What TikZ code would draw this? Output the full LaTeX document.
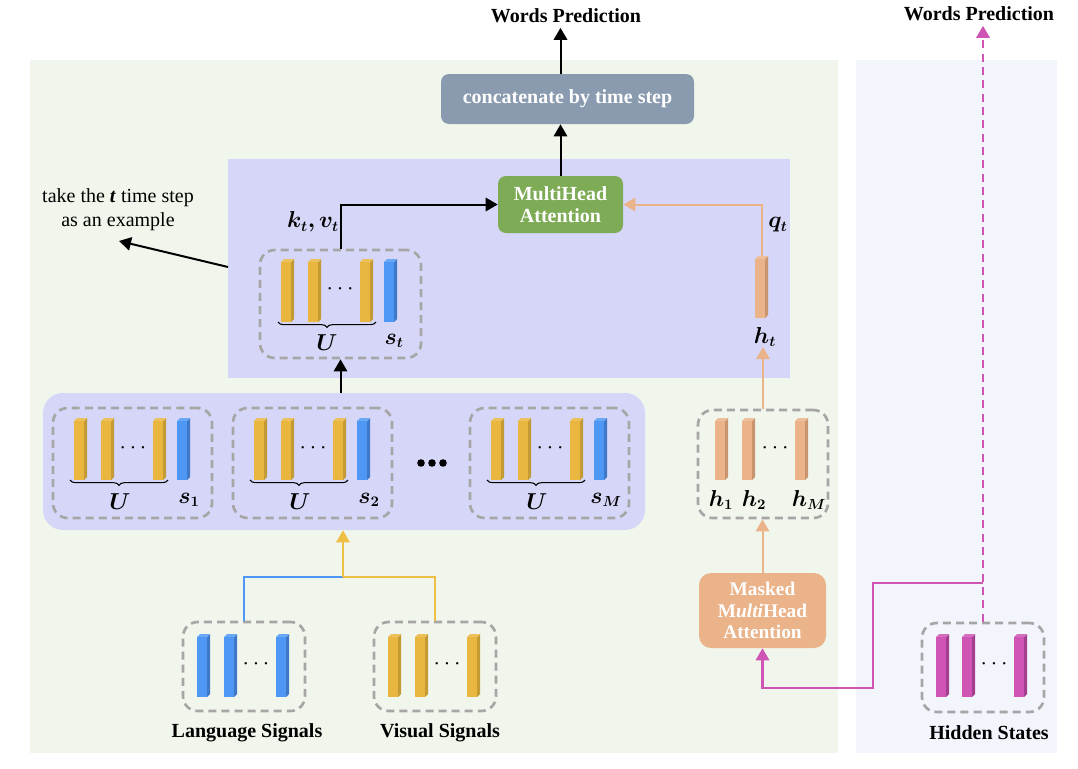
\documentclass[tikz,border=0pt]{standalone}
\usepackage{fontspec}
\setmainfont{Liberation Serif}
\usepackage{bm}
\usetikzlibrary{arrows.meta,decorations.pathreplacing,fit}
\definecolor{bggreen}{HTML}{F1F6EC}
\definecolor{bgblue}{HTML}{F3F5FD}
\definecolor{panelc}{HTML}{D6D6F8}
\definecolor{concatc}{HTML}{8A9BB0}
\definecolor{mhac}{HTML}{7EAB55}
\definecolor{orangec}{HTML}{EAB38A}
\definecolor{oranged}{HTML}{C8956E}
\definecolor{yel}{HTML}{E9B63F}
\definecolor{yeld}{HTML}{C39A33}
\definecolor{yline}{HTML}{EFBE45}
\definecolor{blu}{HTML}{4F97F5}
\definecolor{blud}{HTML}{3E78C6}
\definecolor{mag}{HTML}{CE55B3}
\definecolor{magd}{HTML}{A43F8F}
\definecolor{dashg}{HTML}{A6A6A6}

% x, ytop, ybot, front colour, side colour
\newcommand{\cuboid}[5]{%
  \fill[#5] ({#1+10},#2) -- ({#1+13},{#2-3}) -- ({#1+13},{#3-3}) -- ({#1+10},#3) -- cycle;
  \fill[#4!85!white] (#1,#2) -- ({#1+3},{#2-3}) -- ({#1+13},{#2-3}) -- ({#1+10},#2) -- cycle;
  \fill[#4] (#1,#2) rectangle ({#1+10},#3);
}
% offset, name, label
\newcommand{\ublock}[3]{%
  \node[dashbox, fit={({53+#1},408) ({212+#1},518)}] (#2) {};
  \cuboid{74+#1}{421}{480}{yel}{yeld}
  \cuboid{101+#1}{421}{480}{yel}{yeld}
  \cuboid{153+#1}{421}{480}{yel}{yeld}
  \cuboid{177+#1}{421}{480}{blu}{blud}
  \node[dl] (#2d) at ({133+#1},448) {$\cdots$};
  \draw[bracec] ({168+#1},480) -- ({70+#1},480);
  \node[ml] (#2U) at ({120+#1},502) {$\bm{U}$};
  \node[ml] (#2s) at ({189+#1},500) {$\bm{#3}$};
}

\begin{document}
\begin{tikzpicture}[x=0.75pt,y=-0.75pt,
  dashbox/.style={draw=dashg,line width=2pt,dash pattern=on 6pt off 3.8pt,rounded corners=11pt,inner sep=0pt},
  conn/.style={line width=1.5pt},
  arr/.style={-{Triangle[width=10pt,length=9pt]}},
  bl/.style={font=\fontsize{15}{18}\selectfont\bfseries},
  ml/.style={font=\fontsize{16}{18}\selectfont, inner sep=0pt},
  dl/.style={font=\fontsize{17}{18}\selectfont, inner sep=0pt},
  wbox/.style={text=white,align=center,font=\fontsize{15}{17}\selectfont\bfseries},
  bracec/.style={line width=0.8pt, decorate, decoration={brace,amplitude=4pt}},
  ]
\useasboundingbox (0,0) rectangle (1078,768);

% backgrounds
\node[fit={(30,60) (838,753)}, fill=bggreen, inner sep=0pt] (bgL) {};
\node[fit={(856,60) (1057,753)}, fill=bgblue, inner sep=0pt] (bgR) {};
\node[fit={(228,159) (790,378)}, fill=panelc, inner sep=0pt] (upp) {};
\node[fit={(43,393) (645,530)}, fill=panelc, inner sep=0pt, rounded corners=15pt] (lowp) {};

% top boxes
\node[fit={(441,74) (694,124)}, fill=concatc, rounded corners=6pt, inner sep=0pt] (cat) {};
\node[wbox] (catT) at (cat.center) {concatenate by time step};
\node[fit={(498,176) (623,233)}, fill=mhac, rounded corners=6pt, inner sep=0pt] (mha) {};
\node[wbox] (mhaT) at (mha.center) {MultiHead\\Attention};
\node[fit={(699,573) (826,648)}, fill=orangec, rounded corners=9pt, inner sep=0pt] (msk) {};
\node[wbox, font=\fontsize{14.5}{16}\selectfont\bfseries] (mskT) at (msk.center) {Masked\\M\textit{ulti}Head\\Attention};

\node[bl] (wp1) at (566,16) {Words Prediction};
\node[bl] (wp2) at (979,14) {Words Prediction};

\draw[conn,arr] (cat.north -| mha.north) -- (mha.north |- wp1.south);
\draw[conn,arr] (mha.north) -- (mha.north |- cat.south);

% upper dashed box
\node[dashbox, fit={(260,250) (421,358)}] (ubox) {};
\cuboid{281}{262}{322}{yel}{yeld}
\cuboid{308}{262}{322}{yel}{yeld}
\cuboid{360}{262}{322}{yel}{yeld}
\cuboid{384}{262}{322}{blu}{blud}
\node[dl] (udots) at (340,289) {$\cdots$};
\draw[bracec] (376,322) -- (278,322);
\node[ml] (uU) at (327,343) {$\bm{U}$};
\node[ml] (ust) at (394,341) {$\bm{s_t}$};
\node[ml] (kv) at (313,222) {$\bm{k_t,v_t}$};
\draw[conn,arr] (ubox.north) |- (mha.west);
\draw[conn,arr] (ubox.south |- lowp.north) -- (ubox.south);

% example text
\node[font=\fontsize{15}{18}\selectfont, align=center] (take) at (118,210) {take the \textbf{\textit{t}} time step\\as an example};
\coordinate (exS) at (228,267);
\coordinate (exE) at (119,241);
\draw[conn,arr] (exS) -- (exE);

% h_t
\cuboid{755}{259}{318}{orangec}{oranged}
\node[fit={(755,256) (768,318)}, inner sep=0pt] (ht) {};
\node[ml] (htl) at (765,337) {$\bm{h_t}$};
\node[ml] (qt) at (778,225) {$\bm{q_t}$};
\draw[conn,orangec,arr] (ht.north) |- (mha.east);

% h box
\node[dashbox, fit={(698,410) (828,518)}] (hbox) {};
\cuboid{715}{421}{480}{orangec}{oranged}
\cuboid{742}{421}{480}{orangec}{oranged}
\cuboid{795}{421}{480}{orangec}{oranged}
\node[dl] (hdots) at (775,448) {$\cdots$};
\node[ml] (h1) at (721,500) {$\bm{h_1}$};
\node[ml] (h2) at (754,500) {$\bm{h_2}$};
\node[ml] (hM) at (809,500) {$\bm{h_M}$};
\draw[conn,orangec,arr] (hbox.north) -- (hbox.north |- htl.south);
\draw[conn,orangec,arr] (msk.north) -- (msk.north |- hbox.south);

% lower row
\ublock{0}{b1}{s_1}
\ublock{180}{b2}{s_2}
\ublock{417}{b3}{s_M}
\fill (421,463) circle (3.8);
\fill (432,463) circle (3.8);
\fill (443,463) circle (3.8);

% language and visual
\node[dashbox, fit={(183,622) (305,711)}] (lang) {};
\cuboid{197}{637}{697}{blu}{blud}
\cuboid{224}{637}{697}{blu}{blud}
\cuboid{276}{637}{697}{blu}{blud}
\node[dl] (ldots) at (256,664) {$\cdots$};
\node[dashbox, fit={(374,622) (496,711)}] (vis) {};
\cuboid{388}{637}{697}{yel}{yeld}
\cuboid{415}{637}{697}{yel}{yeld}
\cuboid{467}{637}{697}{yel}{yeld}
\node[dl] (vdots) at (447,664) {$\cdots$};
\node[bl] (langL) at (247,733) {Language Signals};
\node[bl] (visL) at (440,733) {Visual Signals};
\coordinate (mg) at (343,577);
\draw[conn,blu] (lang.north) |- (mg);
\draw[conn,yline] (vis.north) |- (mg);
\draw[conn,yline,arr] (mg) -- (mg |- lowp.south);

% hidden states
\node[dashbox, fit={(922,623) (1044,712)}] (hid) {};
\cuboid{936}{637}{697}{mag}{magd}
\cuboid{962}{637}{697}{mag}{magd}
\cuboid{1014}{637}{697}{mag}{magd}
\node[dl] (mdots) at (994,664) {$\cdots$};
\node[bl] (hidL) at (989,733) {Hidden States};
\draw[line width=1.8pt,mag,dash pattern=on 6pt off 4pt,arr] (hid.north) -- (hid.north |- wp2.south);
\coordinate (jn) at (983,583);
\draw[line width=1.8pt,mag,arr] (jn) -- (873,583) -- (873,688) -| (msk.south);
\end{tikzpicture}
\end{document}
